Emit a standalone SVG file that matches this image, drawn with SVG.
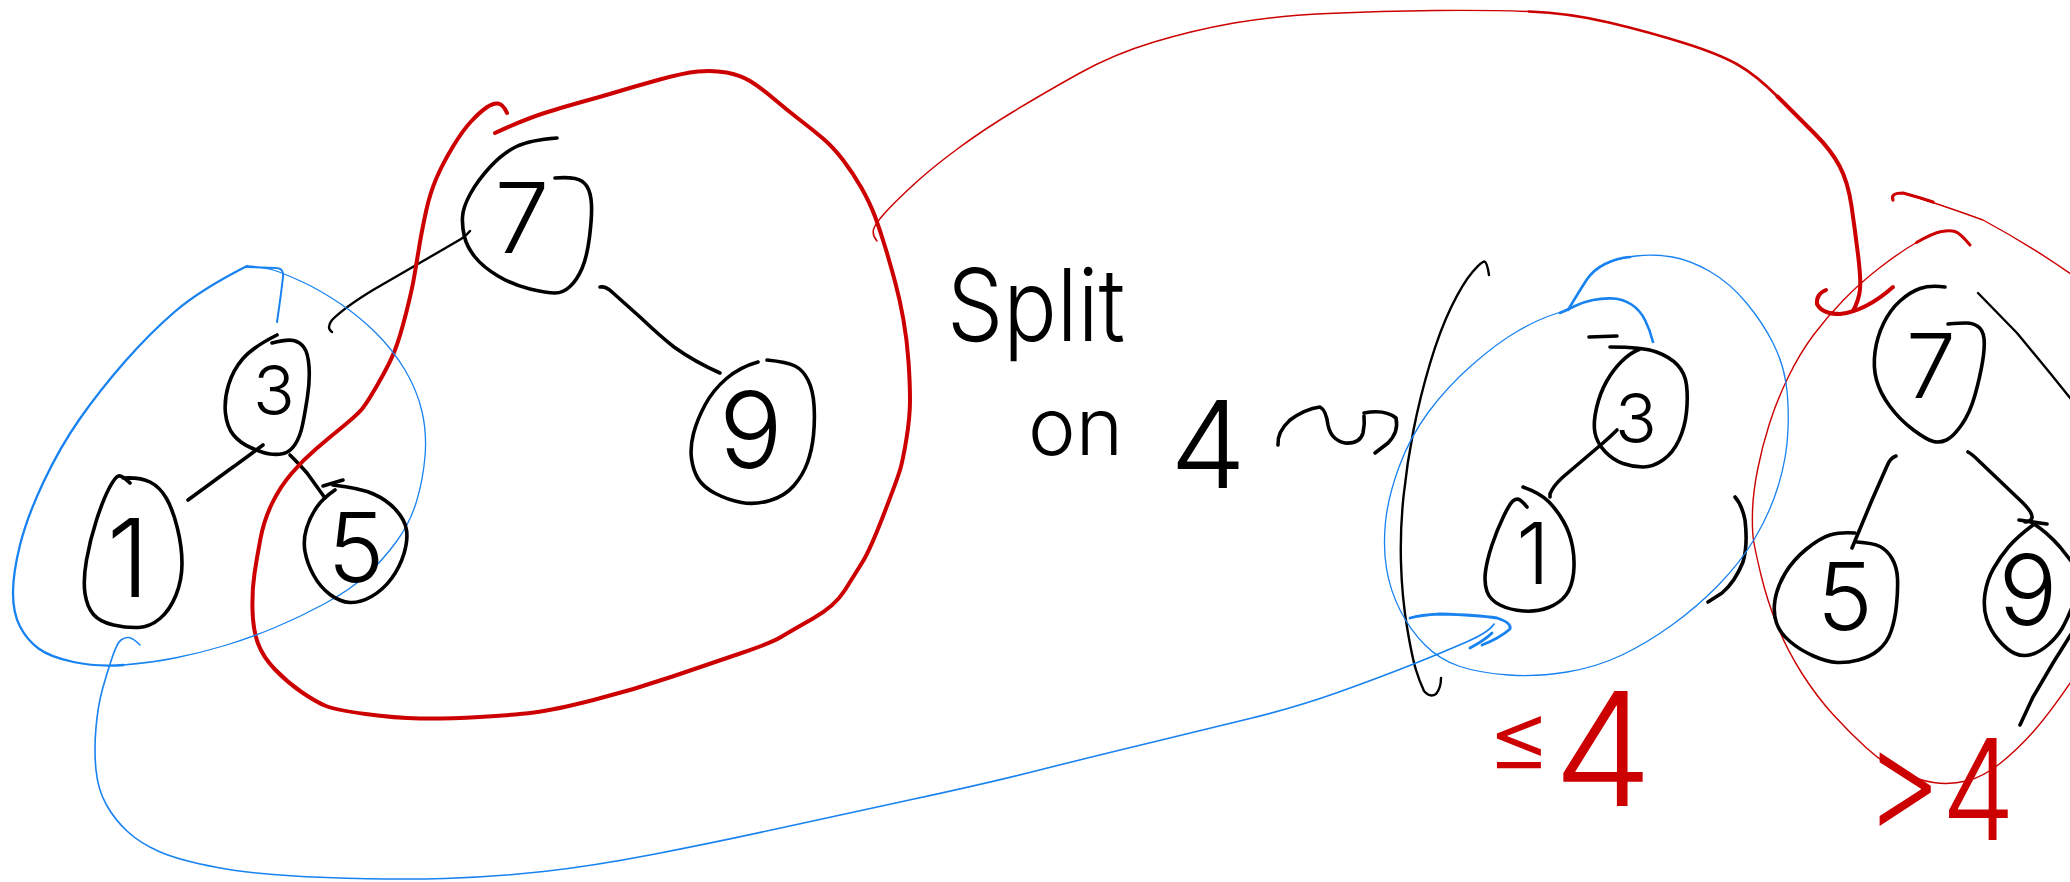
<svg xmlns="http://www.w3.org/2000/svg" width="2070" height="882" viewBox="0 0 2070 882">
<style>
.k{fill:none;stroke:#000;stroke-linecap:round;stroke-linejoin:round;stroke-width:3.6}
.kt{fill:none;stroke:#000;stroke-linecap:round;stroke-linejoin:round;stroke-width:2.4}
.r{fill:none;stroke:#cc0000;stroke-linecap:round;stroke-linejoin:round}
.b{fill:none;stroke:#1882f0;stroke-linecap:round;stroke-linejoin:round}
.d{font-family:Inter,"Liberation Sans",sans-serif;font-weight:300;text-anchor:middle;fill:#000}
.t{font-family:Inter,"Liberation Sans",sans-serif;font-weight:300;fill:#000}
.rt{font-family:Inter,"Liberation Sans",sans-serif;font-weight:300;fill:#cc0000}
.rm{font-family:Inter,"Liberation Sans",sans-serif;font-weight:300;fill:#cc0000;text-anchor:middle}
</style>
<rect width="2070" height="882" fill="#fff"/>

<g id="connectors">
  <!-- left tree edges -->
  <path class="kt" d="M470,231 Q466,236 461,239 L430,257 L373,290 Q345,307 332,320 Q326,328 332,332"/>
  <path class="k" d="M600,287 Q606,286 612,292 L640,317 Q660,336 674,347 Q695,362 720,373"/>
  <path class="k" d="M263,445 Q240,462 233,467 L188,500"/>
  <path class="k" d="M290,455 Q300,465 307,473 L325,498"/>
  <!-- right tree edges -->
  <path class="k" d="M1617,430 Q1610,437 1603,443 L1563,477 Q1553,486 1550,494 L1550,497"/>
  <path class="k" d="M1896,456 Q1890,458 1887,466 L1872,500 L1852,548"/>
  <path class="k" d="M1968,452 Q1972,454 1980,462 L2023,503 Q2033,513 2032,518 Q2030,522 2025,522"/>
  <path class="k" d="M2019,520 L2047,524"/>
  <path class="kt" d="M1978,293 L2017,333 L2050,373 L2075,404"/>
  <path class="k" d="M2075,628 L2053,663 L2033,697 L2020,725"/>
  <!-- brackets around right blue subtree -->
  <path class="kt" d="M1489,275 Q1487,262 1484.5,261.5 Q1482,261 1472.5,272 Q1463,283 1451.5,306.5 Q1440,330 1430,363.5 Q1420,397 1413.5,430 Q1407,463 1403.5,496.5 Q1400,530 1401,563.5 Q1402,597 1407,627 Q1412,657 1416,670 Q1419,680 1424,691 Q1430,698 1436,694 Q1441,688 1441,678"/>
  <path class="k" d="M1735,497 Q1742,505 1745,520 Q1748,545 1743,562 Q1735,582 1722,593 L1708,602"/>

  <!-- red loop around left tree -->
  <path class="r" stroke-width="4" d="M495,133 Q523,120 543,113.5 Q563,107 581.5,102 Q600,97 616.5,92 Q633,87 658,80 Q683,73 698,71.5 Q713,70 726.5,72.5 Q740,75 750,81 Q760,87 773.5,98.5 Q787,110 800,120 Q813,130 823,138.5 Q833,147 843,160 Q853,173 861.5,188 Q870,203 875,216.5 Q880,230 885,246.5 Q890,263 895,281.5 Q900,300 903.5,320 Q907,340 908.5,361.5 Q910,383 910,400 Q910,417 906.5,438.5 Q903,460 900,470 Q897,480 883.5,515 Q870,550 862.5,562 Q855,574 845,590 Q835,606 813,618.5 Q791,631 781,637 Q771,643 741.5,653 Q712,663 672.5,676.5 Q633,690 593.5,700 Q554,710 534,712.5 Q514,715 479.5,717 Q445,719 420,718.5 Q395,718 365.5,714 Q336,710 326,706 Q316,702 301.5,692 Q287,682 275,669.5 Q263,657 258,643.5 Q253,630 252.5,610 Q252,590 254.5,573.5 Q257,557 260.5,538.5 Q264,520 272,503.5 Q280,487 291.5,473.5 Q303,460 316.5,448.5 Q330,437 343.5,426 Q357,415 362,409 Q367,403 378.5,383 Q390,363 395,350 Q400,337 406,313.5 Q412,290 414.5,275 Q417,260 419.5,245 Q422,230 426,211.5 Q430,193 436.5,178 Q443,163 453,146.5 Q463,130 471.5,121 Q480,112 486.5,107.5 Q493,103 498,103.5 Q503,104 507,113"/>
  <!-- red connector to right tree -->
  <path class="r" stroke-width="1.5" d="M877,241 Q871,234 874.5,227 Q878,220 889,208.5 Q900,197 916.5,182 Q933,167 958,148.5 Q983,130 1013.5,111.5 Q1044,93 1079,73.5 Q1114,54 1154,42 Q1194,30 1234,23 Q1274,16 1327.5,13.5 Q1381,11 1435,10.5 Q1489,10 1529,11.5"/>
  <path class="r" stroke-width="2.6" d="M1529,11.5 Q1569,13 1609,22.5 Q1649,32 1684,43 Q1719,54 1737.5,64.5 Q1756,75 1777.5,96.5"/>
  <path class="r" stroke-width="4" d="M1777.5,96.5 Q1799,118 1815,134 Q1831,150 1839.5,166 Q1848,182 1851.5,206 Q1855,230 1858,254.5 Q1861,279 1860,289.5 Q1859,300 1853,311"/>
  <path class="r" stroke-width="4" d="M1826,290 Q1816,294 1817,304 Q1822,314 1840,314 Q1866,311 1893,287"/>
  <!-- red ellipse around right tree -->
  <path class="r" stroke-width="1.4" d="M1893,200 Q1890,193 1903,193 Q1933,202 1983,220 Q2033,247 2075,277"/>
  <path class="r" stroke-width="3.2" d="M1893,200 Q1890,193 1903,193 Q1918,197 1933,202"/>
  <path class="r" stroke-width="1.4" d="M1970,245 Q1960,233 1955,231.5 Q1950,230 1941.5,231.5 Q1933,233 1916.5,242.5 Q1900,252 1880,267.5 Q1860,283 1843.5,300 Q1827,317 1813.5,335 Q1800,353 1788.5,376.5 Q1777,400 1769.5,423.5 Q1762,447 1757.5,470 Q1753,493 1752.5,511.5 Q1752,530 1753.5,540 Q1755,550 1761,575 Q1767,600 1777,625 Q1787,650 1802,673.5 Q1817,697 1833.5,715 Q1850,733 1866.5,748 Q1883,763 1900,771.5 Q1917,780 1933.5,782.5 Q1950,785 1966.5,781 Q1983,777 2000,763.5 Q2017,750 2033.5,731.5 Q2050,713 2075,676"/>
  <path class="r" stroke-width="3" d="M1970,245 Q1960,233 1955,231.5 Q1950,230 1941.5,231.5 Q1933,233 1916.5,242.5"/>

  <!-- blue loop around left subtree -->
  <path class="b" stroke-width="2.3" d="M247,266 Q200,290 175,311.5 Q150,333 125,361.5 Q100,390 80,418.5 Q60,447 43.5,482 Q27,517 20,545 Q13,573 13,593 Q13,613 20,626.5 Q27,640 38.5,648.5 Q50,657 73.5,662 Q97,667 123.5,665"/>
  <path class="b" stroke-width="1.3" d="M123.5,665 Q150,663 175,658 Q200,653 225,645.5 Q250,638 275,627.5 Q300,617 325,603.5 Q350,590 366.5,575 Q383,560 396.5,541.5 Q410,523 416.5,501.5 Q423,480 425,456.5 Q427,433 422,411.5 Q417,390 405,370 Q393,350 376.5,333.5 Q360,317 340,303.5 Q320,290 301.5,281.5 Q283,273 273,270 Q263,267 247,266"/>
  <path class="b" stroke-width="2" d="M277,322 Q281,295 283,277 Q284,268 276,268 L245,267"/>
  <!-- blue connector to right subtree -->
  <path class="b" stroke-width="1.6" d="M140,645 Q133,638 129,637.5 Q125,637 121,640 Q117,643 112,658 Q107,673 102.5,689 Q98,705 96,727.5 Q94,750 96,770 Q98,790 106.5,805 Q115,820 127.5,831.5 Q140,843 159,851.5 Q178,860 217.5,867.5 Q257,875 326,877.5 Q395,880 444.5,878.5 Q494,877 543.5,871.5 Q593,866 652.5,854.5 Q712,843 776,829 Q840,815 914,799 Q988,783 1037.5,770.5 Q1087,758 1145,744 Q1203,730 1250,718.5 Q1297,707 1339,692 Q1381,677 1413.5,664 Q1446,651 1467.5,641.5 Q1489,632 1494,624"/>
  <path class="b" stroke-width="2.8" d="M1410,618 Q1420,615 1440,614 Q1477,615 1497,618 Q1512,623 1510,629 Q1500,638 1482,645"/>
  <path class="b" stroke-width="2.8" d="M1470,648 Q1485,640 1492,633"/>
  <!-- blue loop around right subtree -->
  <path class="b" stroke-width="1.3" d="M1653,342 Q1650,330 1645,320 Q1640,310 1631.5,304.5 Q1623,299 1613,298.5 Q1603,298 1593,300 Q1583,302 1575,306 Q1567,310 1552,315 Q1537,320 1517,331.5 Q1497,343 1472,365 Q1447,387 1428.5,412 Q1410,437 1399,467 Q1388,497 1385.5,522 Q1383,547 1386.5,568.5 Q1390,590 1400,610 Q1410,630 1425,645 Q1440,660 1460,666.5 Q1480,673 1508.5,675 Q1537,677 1567,672 Q1597,667 1622,655 Q1647,643 1672,625 Q1697,607 1718.5,585 Q1740,563 1755,538 Q1770,513 1778.5,485 Q1787,457 1788,430 Q1789,403 1786,383 Q1783,363 1773,343 Q1763,323 1746.5,303 Q1730,283 1710,271.5 Q1690,260 1672.5,257 Q1655,254 1636,256 Q1617,258 1605,264 Q1593,270 1586.5,280 Q1580,290 1568,310"/>
  <path class="b" stroke-width="2.6" d="M1653,342 Q1650,330 1645,320 Q1640,310 1631.5,304.5 Q1623,299 1613,298.5 Q1603,298 1593,300 Q1583,302 1575,306 Q1567,310 1560,313"/>
  <path class="b" stroke-width="2.6" d="M1630,257 Q1617,258 1605,264 Q1593,270 1586.5,280 Q1580,290 1568,310"/>

  <!-- squiggle arrow after "on 4" -->
  <path class="k" d="M1278,445 Q1277,432 1290,420 Q1305,409 1320,407 Q1326,410 1328,425 Q1331,440 1345,443 Q1360,444 1363,433 Q1365,424 1364,416"/>
  <path class="k" d="M1364,413 Q1385,409 1396,418 Q1399,432 1388,443 L1375,453"/>
</g>

<g id="node-left-7">
  <path class="k" d="M557,138 Q530,140 516.5,146.5 Q503,153 490.5,166.5 Q478,180 470.5,193.5 Q463,207 462.5,217 Q462,227 464.5,237 Q467,247 475,257 Q483,267 498,276 Q513,285 530,289 Q547,293 555,293 Q563,293 570,286.5 Q577,280 582,268.5 Q587,257 589.5,237 Q592,217 591.5,205 Q591,193 587,186.5 Q583,180 575,178.5 Q567,177 555,178"/>
  <text class="d" x="522" y="253" font-size="98">7</text>
</g>
<g id="node-left-3">
  <path class="k" d="M277,335 Q253,347 243,358.5 Q233,370 228.5,385 Q224,400 225.5,413.5 Q227,427 233.5,435 Q240,443 251.5,448 Q263,453 270,454 Q277,455 283.5,453.5 Q290,452 295,444.5 Q300,437 302.5,425 Q305,413 307.5,396.5 Q310,380 309,366.5 Q308,353 304,347.5 Q300,342 293.5,340.5 Q287,339 272,343"/>
  <text class="d" x="274" y="415" font-size="69">3</text>
</g>
<g id="node-left-1">
  <path class="k" d="M130,483 Q122,475 118.5,476 Q115,477 109,488.5 Q103,500 96.5,520 Q90,540 86.5,560 Q83,580 85,593.5 Q87,607 93.5,614.5 Q100,622 113.5,625 Q127,628 138.5,627.5 Q150,627 160,618.5 Q170,610 176,595 Q182,580 182,563.5 Q182,547 177.5,528.5 Q173,510 166.5,498.5 Q160,487 150,482 Q140,477 123,478"/>
  <text class="d" x="128" y="597" font-size="108">1</text>
</g>
<g id="node-left-5">
  <path class="k" d="M333,485 Q360,488 373.5,494 Q387,500 396,510 Q405,520 406.5,530 Q408,540 404,553.5 Q400,567 391.5,578.5 Q383,590 371.5,596.5 Q360,603 350,602.5 Q340,602 330,594.5 Q320,587 313.5,575 Q307,563 305,551.5 Q303,540 306.5,528.5 Q310,517 316.5,507.5 Q323,498 335,490"/>
  <path class="k" d="M323,486 L343,480"/>
  <text class="d" x="356" y="582" font-size="96">5</text>
</g>
<g id="node-left-9">
  <path class="k" d="M758,362 Q740,367 726.5,378.5 Q713,390 705,405 Q697,420 693.5,433.5 Q690,447 691.5,458.5 Q693,470 698,478.5 Q703,487 715.5,493.5 Q728,500 741.5,502.5 Q755,505 770,500.5 Q785,496 794,485.5 Q803,475 807.5,462.5 Q812,450 813.5,435 Q815,420 814,405 Q813,390 808,380 Q803,370 795,366 Q787,362 767,360"/>
  <text class="d" x="751" y="468" font-size="106">9</text>
</g>

<g id="node-right-3">
  <path class="k" d="M1589,337 L1617,336"/>
  <path class="k" d="M1610,347 Q1643,347 1656.5,352 Q1670,357 1677.5,365 Q1685,373 1686.5,385 Q1688,397 1686.5,412 Q1685,427 1679,440 Q1673,453 1663,460 Q1653,467 1643,467 Q1633,467 1623,463.5 Q1613,460 1605,451.5 Q1597,443 1595,433 Q1593,423 1596.5,408 Q1600,393 1606.5,381.5 Q1613,370 1621.5,361.5 Q1630,353 1640,349"/>
  <text class="d" x="1636" y="443" font-size="69">3</text>
</g>
<g id="node-right-1">
  <path class="k" d="M1523,487 Q1540,493 1548.5,501.5 Q1557,510 1563.5,521.5 Q1570,533 1572.5,546.5 Q1575,560 1573.5,573.5 Q1572,587 1566,595 Q1560,603 1548.5,607.5 Q1537,612 1523.5,611 Q1510,610 1500,605 Q1490,600 1487,591.5 Q1484,583 1485.5,571.5 Q1487,560 1492,545 Q1497,530 1503.5,516.5 Q1510,503 1513.5,500.5 Q1517,498 1520,500 Q1523,502 1527,507"/>
  <text class="d" x="1533" y="584" font-size="85">1</text>
</g>
<g id="node-right-7">
  <path class="k" d="M1945,287 Q1930,285 1920,288.5 Q1910,292 1900,301 Q1890,310 1883.5,323.5 Q1877,337 1875,352 Q1873,367 1876.5,380 Q1880,393 1890,406.5 Q1900,420 1913.5,430 Q1927,440 1933.5,441.5 Q1940,443 1946.5,440 Q1953,437 1961.5,425 Q1970,413 1975,395 Q1980,377 1982.5,362 Q1985,347 1984,338.5 Q1983,330 1978,326.5 Q1973,323 1966.5,323 Q1960,323 1948,324"/>
  <text class="d" x="1931" y="398" font-size="89">7</text>
</g>
<g id="node-right-5">
  <path class="k" d="M1855,533 Q1840,532 1830,535 Q1820,538 1806.5,549 Q1793,560 1785,573.5 Q1777,587 1775,600 Q1773,613 1776.5,623 Q1780,633 1790,641.5 Q1800,650 1813.5,656 Q1827,662 1837,662.5 Q1847,663 1858.5,660 Q1870,657 1878.5,650 Q1887,643 1891,631.5 Q1895,620 1896.5,605 Q1898,590 1897.5,578.5 Q1897,567 1892,558.5 Q1887,550 1880,546.5 Q1873,543 1857,542"/>
  <text class="d" x="1845" y="630" font-size="94">5</text>
</g>
<g id="node-right-9">
  <path class="k" d="M2033,525 Q2017,537 2008.5,547 Q2000,557 1993.5,568.5 Q1987,580 1985,593.5 Q1983,607 1986.5,618.5 Q1990,630 1998.5,640 Q2007,650 2015,653.5 Q2023,657 2031.5,654.5 Q2040,652 2048.5,644.5 Q2057,637 2062,628.5 Q2067,620 2075,600"/>
  <path class="k" d="M2031,522 Q2047,532 2060,547 L2075,566"/>
  <text class="d" x="2028" y="625" font-size="98">9</text>
</g>

<g id="labels">
  <text class="t" x="947" y="341" font-size="100" textLength="178" lengthAdjust="spacingAndGlyphs">Split</text>
  <text class="t" x="1028" y="455" font-size="79" textLength="95" lengthAdjust="spacingAndGlyphs">on</text>
  <text class="d" x="1208" y="488" font-size="121">4</text>
  <text class="rm" x="1519" y="772" font-size="100">≤</text>
  <text class="rm" x="1603" y="806" font-size="158">4</text>
  <text class="rt" x="1865" y="840" font-size="140" textLength="150" lengthAdjust="spacingAndGlyphs">&gt;4</text>
</g>
</svg>
